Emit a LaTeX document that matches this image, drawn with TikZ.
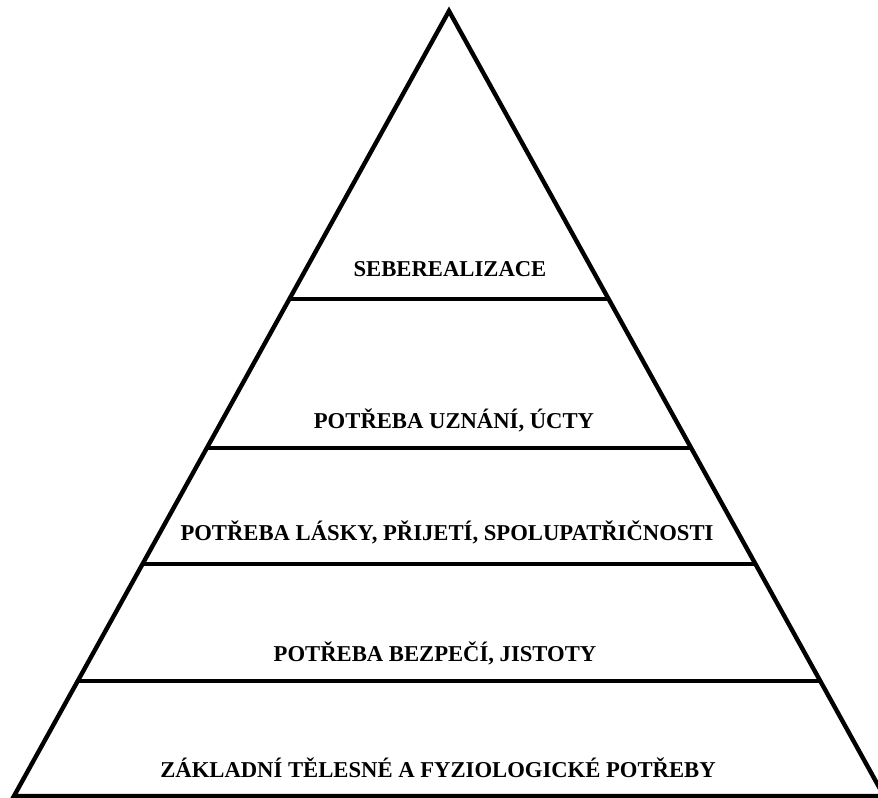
\documentclass[tikz,border=0pt]{standalone}
\usepackage{fontspec}
\setmainfont{Liberation Serif}
\usetikzlibrary{calc}
\tikzset{
  side/.style={line width=3.3pt, line join=miter, line cap=butt},
  level/.style={font=\bfseries\fontsize{17}{19}\selectfont, inner sep=0pt, anchor=base}
}

\begin{document}
\begin{tikzpicture}[x=0.75pt, y=-0.75pt]
    \useasboundingbox (0,0) rectangle (878,798);
    \clip (0,0) rectangle (878,798);

    \coordinate[] (top) at (449,11);
    \coordinate[] (bl) at (14,796);
    \coordinate[] (br) at (884,796);

    % level boundaries on both sides
    \foreach \t [count=\i] in {0.3669,0.5567,0.7045,0.8535} {
      \coordinate (l\i) at ($(top)!\t!(bl)$);
      \coordinate (r\i) at ($(top)!\t!(br)$);
    }

    \draw[side] (bl) -- (top) -- (br) -- cycle;
    \draw[side] (l1) -- (r1);
    \draw[side] (l2) -- (r2);
    \draw[side] (l3) -- (r3);
    \draw[side] (l4) -- (r4);

    \node[level] (self)   at (450,277) {SEBEREALIZACE};
    \node[level] (esteem) at (454,428) {POTŘEBA UZNÁNÍ, ÚCTY};
    \node[level] (love)   at (447,540) {POTŘEBA LÁSKY, PŘIJETÍ, SPOLUPATŘIČNOSTI};
    \node[level] (safe)   at (435,661) {POTŘEBA BEZPEČÍ, JISTOTY};
    \node[level] (basic)  at (438,777) {ZÁKLADNÍ TĚLESNÉ A FYZIOLOGICKÉ POTŘEBY};
\end{tikzpicture}
\end{document}
